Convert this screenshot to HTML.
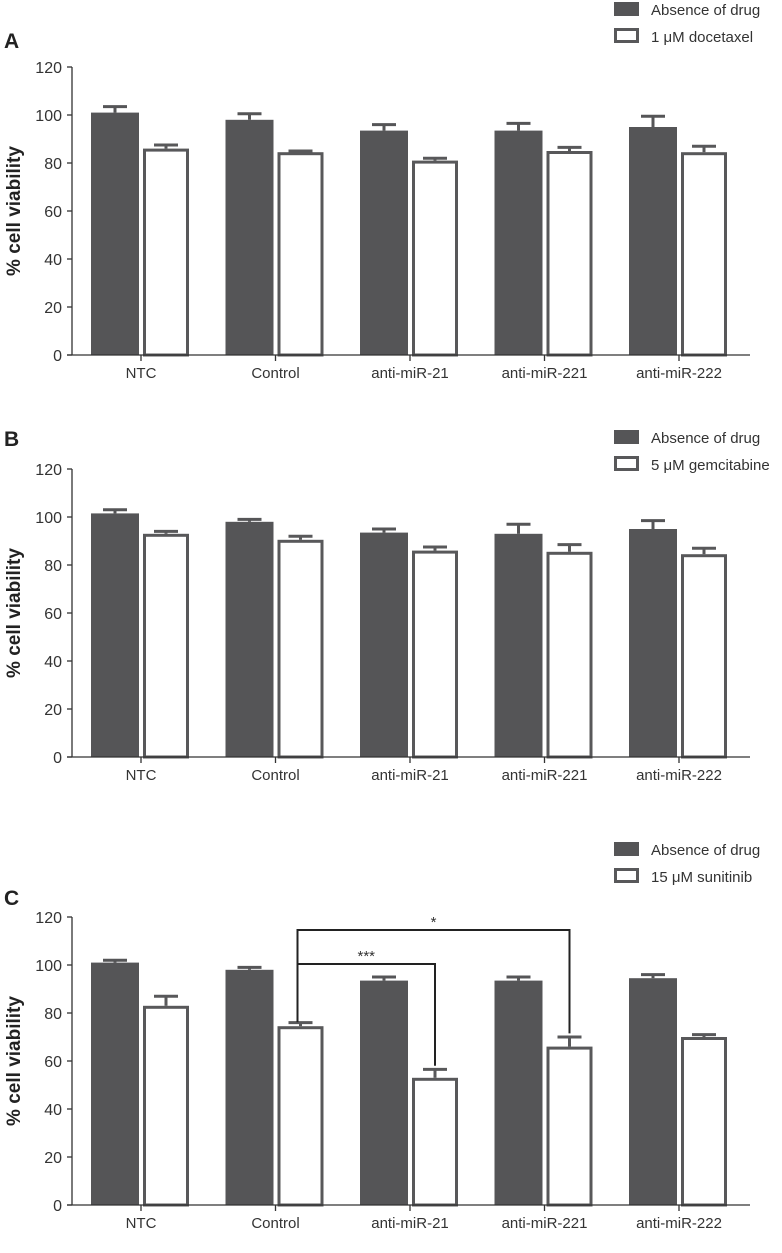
<!DOCTYPE html>
<html><head><meta charset="utf-8"><style>
body{margin:0;background:#fff;}
svg{display:block;font-family:"Liberation Sans",sans-serif;}
</style></head><body>
<svg id="chart" width="782" height="1253" xmlns="http://www.w3.org/2000/svg"></svg>
<script>
const categories=["NTC","Control","anti-miR-21","anti-miR-221","anti-miR-222"];
const yTicks=[0,20,40,60,80,100,120];
const aDark=[101,98,93.5,93.5,95];
const aDarkErr=[2.5,2.5,2.5,3,4.5];
const aWhite=[86,84.5,81,85,84.5];
const aWhiteErr=[1.5,0.5,1,1.5,2.5];
const bDark=[101.5,98,93.5,93,95];
const bDarkErr=[1.5,1,1.5,4,3.5];
const bWhite=[93,90.5,86,85.5,84.5];
const bWhiteErr=[1,1.5,1.5,3,2.5];
const cDark=[101,98,93.5,93.5,94.5];
const cDarkErr=[1,1,1.5,1.5,1.5];
const cWhite=[83,74.5,53,66,70];
const cWhiteErr=[4,1.5,3.5,4,1];
const legendLabels=["1 μM docetaxel","5 μM gemcitabine","15 μM sunitinib"];
const panelLetters=["A","B","C"];
const sigLabels=["***","*"];
const sigTargets=[2,3];
const sigHeights=[100.4,114.6];

const svg=document.getElementById('chart');
const NS="http://www.w3.org/2000/svg";
function mk(tag,attrs,parent){const e=document.createElementNS(NS,tag);for(const k in attrs)e.setAttribute(k,attrs[k]);(parent||svg).appendChild(e);return e;}
const DARK="#555557", STROKE="#58585a";

const panels=[
 {y0:355,legY:2,dark:aDark,dE:aDarkErr,white:aWhite,wE:aWhiteErr,letterY:48},
 {y0:757,legY:430,dark:bDark,dE:bDarkErr,white:bWhite,wE:bWhiteErr,letterY:446},
 {y0:1205,legY:842,dark:cDark,dE:cDarkErr,white:cWhite,wE:cWhiteErr,letterY:905}
];
const axisX=72, pitch=134.5, firstC=141;
panels.forEach((p,pi)=>{
  const g=mk('g',{});
  
  
  const ys=v=>p.y0-v*2.4;
  const xc=i=>firstC+i*pitch;
  const L=mk('text',{x:4,y:p.letterY,'font-size':21,'font-weight':'bold',fill:'#222'},g);L.textContent=panelLetters[pi];
  
  const lg=mk('g',{},g);
  mk('rect',{x:614,y:p.legY,width:25,height:14,fill:DARK},lg);
  let t=mk('text',{x:651,y:p.legY+13,'font-size':15,fill:'#333'},lg);t.textContent="Absence of drug";
  mk('rect',{x:615.5,y:p.legY+27.5,width:22,height:12,fill:'#fff',stroke:STROKE,'stroke-width':3},lg);
  t=mk('text',{x:651,y:p.legY+40,'font-size':15,fill:'#333'},lg);t.textContent=legendLabels[pi];
  const ya=mk('g',{},g);
  mk('line',{x1:axisX,y1:ys(120),x2:axisX,y2:ys(0),stroke:'#333','stroke-width':1.3},ya);
  yTicks.forEach(v=>{
    mk('line',{x1:axisX-5,y1:ys(v),x2:axisX,y2:ys(v),stroke:'#333','stroke-width':1.3},ya);
    const tt=mk('text',{x:axisX-10,y:ys(v)+6,'font-size':16,'text-anchor':'end',fill:'#333'},ya);tt.textContent=v;
  });
  const yt=mk('text',{x:0,y:0,'font-size':19,'font-weight':'bold','text-anchor':'middle',fill:'#222',transform:`translate(20,${ys(60)}) rotate(-90)`},g);
  yt.textContent="% cell viability";
  
  categories.forEach((c,i)=>{
    const x=xc(i);
    const bd=mk('rect',{x:x-50,y:ys(p.dark[i]),width:48,height:p.dark[i]*2.4,fill:DARK},g);
    
    const de=ys(p.dark[i]+p.dE[i]);
    mk('line',{x1:x-26,y1:ys(p.dark[i]),x2:x-26,y2:de,stroke:DARK,'stroke-width':3},g);
    mk('line',{x1:x-38,y1:de,x2:x-14,y2:de,stroke:DARK,'stroke-width':3},g);
    const bw=mk('rect',{x:x+3.5,y:ys(p.white[i])+1.5,width:43,height:p.white[i]*2.4-1.5,fill:'#fff',stroke:STROKE,'stroke-width':3},g);
    
    const we=ys(p.white[i]+p.wE[i]);
    mk('line',{x1:x+25,y1:ys(p.white[i]),x2:x+25,y2:we,stroke:STROKE,'stroke-width':3},g);
    mk('line',{x1:x+13,y1:we,x2:x+37,y2:we,stroke:STROKE,'stroke-width':3},g);
    const xl=mk('text',{x:x,y:p.y0+23,'font-size':15,'text-anchor':'middle',fill:'#333'},g);xl.textContent=c;
    
  });
  const xa=mk('g',{},g);
  mk('line',{x1:axisX-5,y1:p.y0,x2:750,y2:p.y0,stroke:'#333','stroke-width':1.3},xa);
  categories.forEach((c,i)=>mk('line',{x1:xc(i),y1:p.y0,x2:xc(i),y2:p.y0+6,stroke:'#333','stroke-width':1.3},xa));
  if(pi===2){
    const sx=xc(1)+22;
    sigTargets.forEach((ti,k)=>{
      const sg=mk('g',{},g);
      const tx=xc(ti)+25, hy=ys(sigHeights[k]);
      mk('polyline',{points:`${sx},${ys(76.2)} ${sx},${hy} ${tx},${hy} ${tx},${ys(p.white[ti]+p.wE[ti]+1.5)}`,fill:'none',stroke:'#222','stroke-width':2},sg);
      const st=mk('text',{x:(sx+tx)/2,y:hy-3,'font-size':15,'text-anchor':'middle',fill:'#333'},sg);st.textContent=sigLabels[k];
    });
  }
});
</script>
</body></html>
